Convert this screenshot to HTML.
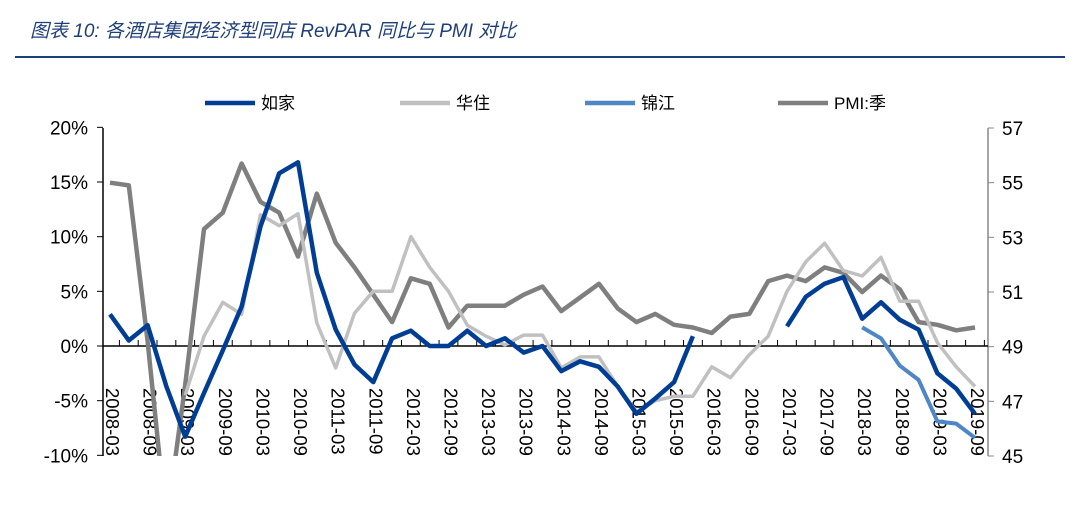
<!DOCTYPE html>
<html><head><meta charset="utf-8"><style>
body{margin:0;background:#fff;width:1079px;height:506px;overflow:hidden;font-family:"Liberation Sans","Noto Sans CJK SC",sans-serif}
</style></head><body>
<svg width="1079" height="506">
<text x="30" y="37" font-size="19" font-style="italic" fill="#1F3F7A" font-family="Liberation Sans, Noto Sans CJK SC, sans-serif">图表 10:  各酒店集团经济型同店 RevPAR 同比与 PMI 对比</text>
<line x1="15" y1="57" x2="1065" y2="57" stroke="#1F3F7A" stroke-width="2"/>
<g id="legend"></g>
<g id="axes"></g>
<defs><clipPath id="plot"><rect x="100" y="125" width="890" height="331"/></clipPath></defs>
<g id="series" clip-path="url(#plot)"></g>
</svg>
<script>
const categories=["2008-03","2008-06","2008-09","2008-12","2009-03","2009-06","2009-09","2009-12","2010-03","2010-06","2010-09","2010-12","2011-03","2011-06","2011-09","2011-12","2012-03","2012-06","2012-09","2012-12","2013-03","2013-06","2013-09","2013-12","2014-03","2014-06","2014-09","2014-12","2015-03","2015-06","2015-09","2015-12","2016-03","2016-06","2016-09","2016-12","2017-03","2017-06","2017-09","2017-12","2018-03","2018-06","2018-09","2018-12","2019-03","2019-06","2019-09"];
const rujia=[2.9,0.5,1.9,-3.7,-8.3,-4.3,-0.4,3.6,10.9,15.8,16.8,6.7,1.5,-1.7,-3.3,0.7,1.4,0,0,1.4,0,0.7,-0.6,0,-2.3,-1.4,-1.9,-3.7,-6.2,-4.8,-3.3,0.9,null,null,null,null,1.8,4.5,5.7,6.3,2.5,4.0,2.4,1.5,-2.5,-3.9,-6.2];
const huazhu=[null,null,null,null,-4.5,0.9,4.0,2.9,12.0,11.0,12.1,2.1,-2.0,3.0,5.0,5.0,10.0,7.2,5.0,1.9,0.9,0.1,1.0,1.0,-2.0,-1.0,-1.0,-3.7,-6.0,-5.0,-4.6,-4.6,-1.9,-2.9,-0.8,0.9,5.0,7.7,9.4,6.9,6.4,8.1,4.1,4.1,0.3,-1.9,-3.7];
const jinjiang=[null,null,null,null,null,null,null,null,null,null,null,null,null,null,null,null,null,null,null,null,null,null,null,null,null,null,null,null,null,null,null,null,null,null,null,null,null,null,null,null,1.7,0.7,-1.8,-3.1,-6.9,-7.1,-8.4];
const pmi=[55.0,54.9,49.2,42.5,47.6,53.3,53.9,55.7,54.3,53.9,52.3,54.6,52.8,51.9,50.9,49.9,51.5,51.3,49.7,50.5,50.5,50.5,50.9,51.2,50.3,50.8,51.3,50.4,49.9,50.2,49.8,49.7,49.5,50.1,50.2,51.4,51.6,51.4,51.9,51.7,51.0,51.6,51.1,49.9,49.8,49.6,49.7];
const leftTicks=[20,15,10,5,0,-5,-10];
const rightTicks=[57,55,53,51,49,47,45];
const NS="http://www.w3.org/2000/svg";
const X=i=>110+i*(975-110)/(categories.length-1);
const YL=v=>346-v*(328/30);
const YR=v=>456-(v-45)*(328/12);
function mk(tag,attrs,parent){const e=document.createElementNS(NS,tag);for(const k in attrs)e.setAttribute(k,attrs[k]);parent.appendChild(e);return e;}
const axes=document.getElementById('axes'),ser=document.getElementById('series'),leg=document.getElementById('legend');
let a=mk('line',{x1:103,y1:128,x2:103,y2:456,stroke:'#000','stroke-width':1.5},axes);

leftTicks.forEach(v=>{const y=YL(v);mk('line',{x1:97,y1:y,x2:103,y2:y,stroke:'#000'},axes);
 const t=mk('text',{x:88,y:y+7,'font-size':19,'text-anchor':'end'},axes);t.textContent=v+'%';
 });
a=mk('line',{x1:988,y1:128,x2:988,y2:456,stroke:'#888','stroke-width':1.5},axes);

rightTicks.forEach(v=>{const y=YR(v);mk('line',{x1:988,y1:y,x2:994,y2:y,stroke:'#888'},axes);
 const t=mk('text',{x:1002,y:y+7,'font-size':19},axes);t.textContent=v;
 });
a=mk('line',{x1:103,y1:YL(0),x2:988,y2:YL(0),stroke:'#000','stroke-width':1.5},axes);

categories.forEach((c,i)=>{const x=X(i)+9.4;mk('line',{x1:x,y1:YL(0)-6,x2:x,y2:YL(0),stroke:'#000'},axes);
 if(i%2===0){const t=mk('text',{x:0,y:0,'font-size':18.5,transform:`translate(${X(i)-4},388) rotate(90)`},axes);t.textContent=c;
 }});
function line(data,Y,color,w,name){let segs=[],cur=[];data.forEach((v,i)=>{if(v===null){if(cur.length)segs.push(cur);cur=[];}else cur.push(X(i).toFixed(1)+','+Y(v).toFixed(1));});if(cur.length)segs.push(cur);
 segs.forEach(s=>{const p=mk('polyline',{points:s.join(' '),fill:'none',stroke:color,'stroke-width':w,'stroke-linejoin':'round'},ser);
 });}
line(pmi,YR,'#7f7f7f',4.5,'pmi-line');
line(huazhu,YL,'#c0c0c0',3.5,'huazhu-line');
line(jinjiang,YL,'#4F86C6',4,'jinjiang-line');
line(rujia,YL,'#003E95',4.5,'rujia-line');
const legendItems=[["如家","#003E95",205],["华住","#c0c0c0",400],["锦江","#4F86C6",585],["PMI:季","#7f7f7f",778]];
legendItems.forEach(([n,c,x])=>{const g=mk('g',{},leg);
 mk('line',{x1:x,y1:103,x2:x+50,y2:103,stroke:c,'stroke-width':4.5},g);
 const t=mk('text',{x:x+56,y:109,'font-size':17},g);t.textContent=n;});
</script>
</body></html>
